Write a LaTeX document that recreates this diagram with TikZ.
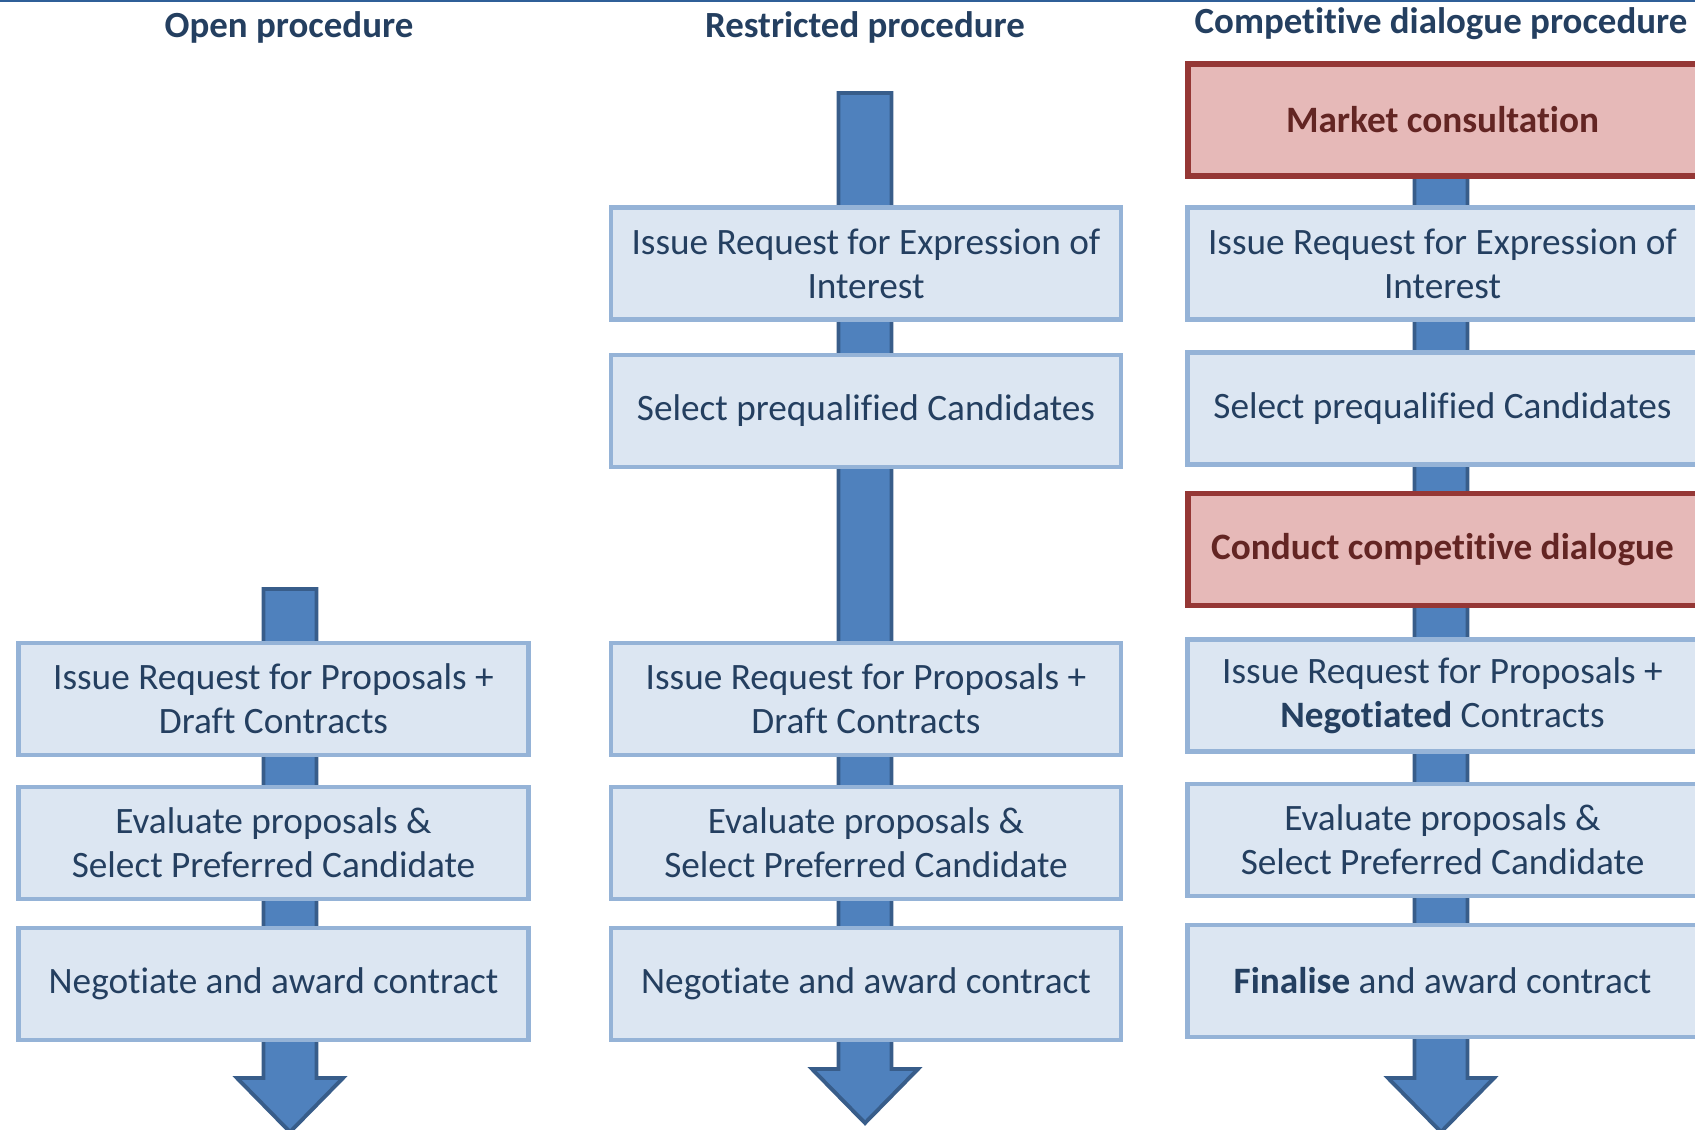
\documentclass[tikz,border=0pt]{standalone}
\usepackage{fontspec}
\setmainfont[Ligatures={NoCommon,NoContextual,NoRare}]{Carlito}
\usetikzlibrary{calc}
\definecolor{navy}{HTML}{243F60}
\definecolor{boxfill}{HTML}{DCE6F2}
\definecolor{boxline}{HTML}{95B3D7}
\definecolor{keyfill}{HTML}{E6B9B8}
\definecolor{keyline}{HTML}{953735}
\definecolor{keytext}{HTML}{632523}
\definecolor{shaftfill}{HTML}{4F81BD}
\definecolor{shaftline}{HTML}{385D8A}
\definecolor{rule}{HTML}{2F5F98}
\tikzset{stepbox/.style={draw=boxline, fill=boxfill, line width=1.4pt, minimum width=5.1cm, minimum height=1.12cm, inner sep=0pt, align=center, text=navy, font=\fontsize{10.6}{12.5}\selectfont}}
\tikzset{keybox/.style={stepbox, draw=keyline, fill=keyfill, line width=1.7pt, text=keytext, font=\fontsize{10.6}{12.5}\selectfont\bfseries}}
\tikzset{heading/.style={text=navy, font=\fontsize{10.5}{12.5}\selectfont\bfseries}}
\tikzset{shaft/.style={draw=shaftline, fill=shaftfill, line width=1.1pt}}
\newcommand{\blockarrow}[2]{%
  \draw[shaft] ($(#1)+(-0.265,0)$) -- ($(#1)+(0.265,0)$) -- ($(#2)+(0.265,0.54)$) -- ($(#2)+(0.53,0.54)$)
    -- (#2) -- ($(#2)+(-0.53,0.54)$) -- ($(#2)+(-0.265,0.54)$) -- cycle;}

\begin{document}
\begin{tikzpicture}
   \useasboundingbox (0,0) rectangle (16.95,-11.29);
   \draw[rule,line width=0.7pt] (0,-0.01) -- (16.95,-0.01);
   \node[heading] (open)  at (2.89,-0.27) {Open procedure};
   \node[heading] (restr) at (8.65,-0.27) {Restricted procedure};
   \node[heading] (comp)  at (14.41,-0.24) {Competitive dialogue procedure};
   \begin{scope}
    \coordinate (top1) at (2.90,-5.89);
    \coordinate (tip1) at (2.90,-11.32);
    \blockarrow{top1}{tip1}
    \node[stepbox] (o1) at (2.735,-6.99) {Issue Request for Proposals +\\Draft Contracts};
    \node[stepbox] (o2) at (2.735,-8.43) {Evaluate proposals \&\\Select Preferred Candidate};
    \node[stepbox] (o3) at (2.735,-9.84) {Negotiate and award contract};
   \end{scope}
   \begin{scope}
    \coordinate (top2) at (8.65,-0.93);
    \coordinate (tip2) at (8.65,-11.23);
    \blockarrow{top2}{tip2}
    \node[stepbox] (r1) at (8.66,-2.635) {Issue Request for Expression of\\Interest};
    \node[stepbox] (r2) at (8.66,-4.11) {Select prequalified Candidates};
    \node[stepbox] (r3) at (8.66,-6.99) {Issue Request for Proposals +\\Draft Contracts};
    \node[stepbox] (r4) at (8.66,-8.43) {Evaluate proposals \&\\Select Preferred Candidate};
    \node[stepbox] (r5) at (8.66,-9.84) {Negotiate and award contract};
   \end{scope}
   \begin{scope}
    \coordinate (top3) at (14.41,-1.5);
    \coordinate (tip3) at (14.41,-11.32);
    \blockarrow{top3}{tip3}
    \node[keybox]  (c1) at (14.425,-1.20) {Market consultation};
    \node[stepbox] (c2) at (14.425,-2.635) {Issue Request for Expression of\\Interest};
    \node[stepbox] (c3) at (14.425,-4.085) {Select prequalified Candidates};
    \node[keybox]  (c4) at (14.425,-5.495) {Conduct competitive dialogue};
    \node[stepbox] (c5) at (14.425,-6.955) {Issue Request for Proposals +\\\textbf{Negotiated} Contracts};
    \node[stepbox] (c6) at (14.425,-8.40) {Evaluate proposals \&\\Select Preferred Candidate};
    \node[stepbox] (c7) at (14.425,-9.81) {\textbf{Finalise} and award contract};
   \end{scope}
\end{tikzpicture}
\end{document}
